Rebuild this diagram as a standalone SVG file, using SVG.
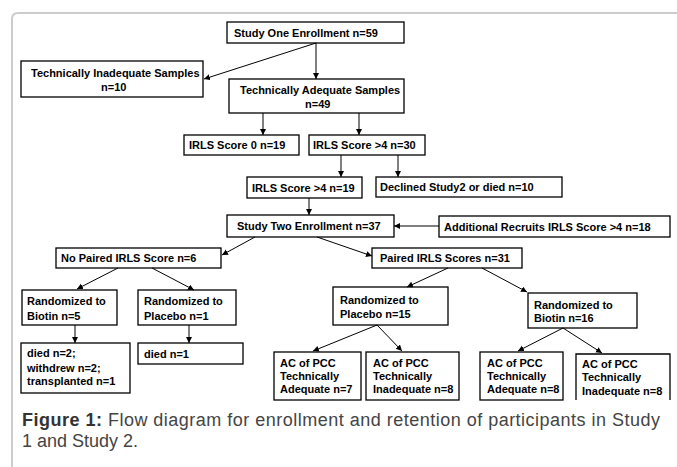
<svg xmlns="http://www.w3.org/2000/svg" width="677" height="467" viewBox="0 0 677 467">
<style>
.box{fill:#fff;stroke:#000;stroke-width:1.3}
.t{font-family:"Liberation Sans",Arial,sans-serif;font-weight:bold;font-size:11px;fill:#000}
.c{fill:none;stroke:#000;stroke-width:1;marker-end:url(#ah)}
.cap{font-family:"Liberation Sans",Arial,sans-serif;font-size:18px;fill:#444}
</style>
<defs>
<marker id="ah" markerUnits="userSpaceOnUse" markerWidth="8" markerHeight="8" refX="6" refY="3" orient="auto">
<path d="M0,0 L6,3 L0,6 z" fill="#000"/>
</marker>
</defs>
<rect width="677" height="467" fill="#fff"/>
<path d="M12,467 V19 Q12,13 18,13 H677" fill="none" stroke="#cccccc" stroke-width="2"/>

<g id="n1"><rect class="box" x="227" y="22" width="177" height="21"/><text class="t" x="234" y="37">Study One Enrollment n=59</text></g>
<g id="n2"><rect class="box" x="21" y="61" width="182" height="36"/><text class="t" x="31" y="77">Technically Inadequate Samples</text><text class="t" x="101" y="91">n=10</text></g>
<g id="n3"><rect class="box" x="229" y="79" width="175" height="34"/><text class="t" x="240" y="94">Technically Adequate Samples</text><text class="t" x="305" y="108">n=49</text></g>
<g id="n4"><rect class="box" x="184" y="135" width="115" height="20"/><text class="t" x="189" y="149">IRLS Score 0 n=19</text></g>
<g id="n5"><rect class="box" x="309" y="135" width="116" height="20"/><text class="t" x="313" y="149">IRLS Score &gt;4 n=30</text></g>
<g id="n6"><rect class="box" x="247" y="177" width="115" height="21"/><text class="t" x="252" y="192">IRLS Score &gt;4 n=19</text></g>
<g id="n7"><rect class="box" x="376" y="177" width="186" height="20"/><text class="t" x="380" y="191">Declined Study2 or died n=10</text></g>
<g id="n8"><rect class="box" x="227" y="215" width="167" height="22"/><text class="t" x="237" y="230">Study Two Enrollment n=37</text></g>
<g id="n9"><rect class="box" x="439" y="216" width="231" height="21"/><text class="t" x="444" y="231">Additional Recruits IRLS Score &gt;4 n=18</text></g>
<g id="n10"><rect class="box" x="56" y="248" width="165" height="20"/><text class="t" x="61" y="262">No Paired IRLS Score n=6</text></g>
<g id="n11"><rect class="box" x="372" y="248" width="150" height="20"/><text class="t" x="380" y="262">Paired IRLS Scores n=31</text></g>
<g id="n12"><rect class="box" x="22" y="290" width="95" height="35"/><text class="t" x="27" y="305">Randomized to</text><text class="t" x="27" y="320">Biotin n=5</text></g>
<g id="n13"><rect class="box" x="138" y="290" width="98" height="35"/><text class="t" x="144" y="305">Randomized to</text><text class="t" x="144" y="320">Placebo n=1</text></g>
<g id="n14"><rect class="box" x="21" y="343" width="109" height="50"/><text class="t" x="27" y="357">died n=2;</text><text class="t" x="27" y="372">withdrew n=2;</text><text class="t" x="27" y="385">transplanted n=1</text></g>
<g id="n15"><rect class="box" x="138" y="343" width="105" height="21"/><text class="t" x="144" y="358">died n=1</text></g>
<g id="n16"><rect class="box" x="333" y="287" width="115" height="38"/><text class="t" x="340" y="304">Randomized to</text><text class="t" x="340" y="318">Placebo n=15</text></g>
<g id="n17"><rect class="box" x="528" y="293" width="109" height="35"/><text class="t" x="534" y="309">Randomized to</text><text class="t" x="534" y="322">Biotin n=16</text></g>
<g id="n18"><rect class="box" x="274" y="352" width="87" height="48"/><text class="t" x="280" y="367">AC of PCC</text><text class="t" x="280" y="380">Technically</text><text class="t" x="280" y="393">Adequate n=7</text></g>
<g id="n19"><rect class="box" x="366" y="352" width="93" height="48"/><text class="t" x="373" y="367">AC of PCC</text><text class="t" x="373" y="380">Technically</text><text class="t" x="373" y="393">Inadequate n=8</text></g>
<g id="n20"><rect class="box" x="480" y="352" width="83" height="48"/><text class="t" x="487" y="367">AC of PCC</text><text class="t" x="487" y="380">Technically</text><text class="t" x="487" y="393">Adequate n=8</text></g>
<g id="n21"><path d="M576,400 V354 H670 V400" fill="#fff" stroke="#000" stroke-width="1.3"/><text class="t" x="582" y="368">AC of PCC</text><text class="t" x="582" y="381">Technically</text><text class="t" x="582" y="395">Inadequate n=8</text></g>

<g id="connectors">
<path class="c" d="M316,43 V79"/>
<path class="c" d="M316,43 L204,79"/>
<path class="c" d="M263,113 V135"/>
<path class="c" d="M359,113 V135"/>
<path class="c" d="M341,155 V177"/>
<path class="c" d="M398,155 V177"/>
<path class="c" d="M309,198 V215"/>
<path class="c" d="M439,226 H394"/>
<path class="c" d="M255,237 L222,255"/>
<path class="c" d="M317,237 L372,256"/>
<path class="c" d="M118,268 L77,289"/>
<path class="c" d="M152,268 L194,290"/>
<path class="c" d="M448,268 L407,287"/>
<path class="c" d="M482,268 L527,292"/>
<path class="c" d="M75,325 V343"/>
<path class="c" d="M189,325 V343"/>
<path class="c" d="M377,325 L313,351"/>
<path class="c" d="M377,325 L402,351"/>
<path class="c" d="M563,328 L518,351"/>
<path class="c" d="M563,328 L602,353"/>
</g>

<g id="caption">
<text class="cap" x="22" y="426" textLength="638" lengthAdjust="spacing"><tspan font-weight="bold" fill="#333">Figure 1:</tspan> Flow diagram for enrollment and retention of participants in Study</text>
<text class="cap" x="22" y="447">1 and Study 2.</text>
</g>
</svg>
